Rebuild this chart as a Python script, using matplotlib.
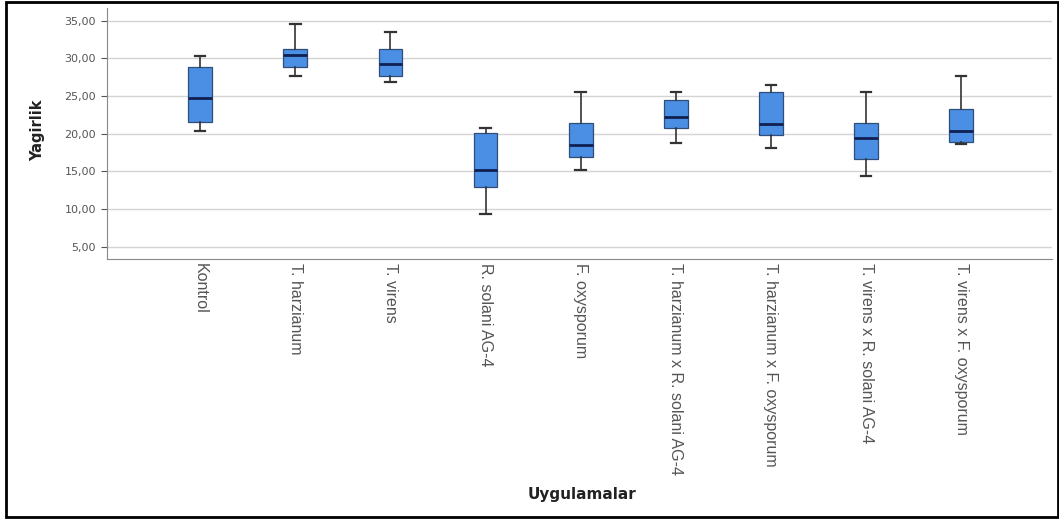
import matplotlib
matplotlib.use("Agg")
import matplotlib.pyplot as plt
from matplotlib.ticker import FuncFormatter

plt.rcParams["font.family"] = ["Liberation Sans", "DejaVu Sans"]

groups = ["Kontrol", "T. harzianum", "T. virens", "R. solani AG-4", "F. oxysporum",
          "T. harzianum x R. solani AG-4", "T. harzianum x F. oxysporum",
          "T. virens x R. solani AG-4", "T. virens x F. oxysporum"]
whisk_low = [20.4, 27.7, 26.9, 9.3, 15.2, 18.8, 18.1, 14.4, 18.7]
q1 = [21.5, 28.9, 27.7, 13.0, 16.9, 20.8, 19.8, 16.7, 18.9]
med = [24.8, 30.5, 29.2, 15.2, 18.5, 22.2, 21.3, 19.5, 20.3]
q3 = [28.8, 31.25, 31.2, 20.1, 21.45, 24.5, 25.6, 21.4, 23.3]
whisk_high = [30.3, 34.6, 33.5, 20.8, 25.55, 25.6, 26.4, 25.6, 27.7]
yticks = [5, 10, 15, 20, 25, 30, 35]

stats = []
for i, g in enumerate(groups):
    stats.append({"label": g, "whislo": whisk_low[i], "q1": q1[i], "med": med[i],
                  "q3": q3[i], "whishi": whisk_high[i], "fliers": []})

fig = plt.figure(figsize=(10.59, 5.21), dpi=100)
ax = fig.add_axes([0.101, 0.503, 0.892, 0.482])

ax.bxp(stats, positions=range(1, len(groups) + 1), widths=0.25, capwidths=0.11,
       patch_artist=True, showfliers=False,
       boxprops=dict(facecolor="#4a8fe3", edgecolor="#2f4f7a", linewidth=0.9),
       medianprops=dict(color="#102050", linewidth=2.0),
       whiskerprops=dict(color="#333333", linewidth=1.2),
       capprops=dict(color="#333333", linewidth=1.6))

ax.set_xlim(0.02, 9.95)
ax.set_ylim(3.4, 36.7)
ax.set_yticks(yticks)
ax.yaxis.set_major_formatter(FuncFormatter(lambda v, p: f"{v:.2f}".replace(".", ",")))
ax.grid(axis="y", color="#d4d4d4", linewidth=1.0)
ax.set_axisbelow(True)
for s in ["top", "right"]:
    ax.spines[s].set_visible(False)
for s in ["left", "bottom"]:
    ax.spines[s].set_color("#888888")
ax.tick_params(axis="y", labelsize=8, colors="#555555", length=4, pad=4)
ax.tick_params(axis="x", length=0, pad=3)
for t in ax.get_yticklabels():
    t.set_family("DejaVu Sans")
ax.set_xticks(range(1, len(groups) + 1))
ax.set_xticklabels(groups, rotation=-90, fontsize=11.5, color="#555555", va="top", ha="center")

fig.text(0.036, 0.75, "Yagirlik", fontsize=10.5, fontweight="bold", family="DejaVu Sans",
         rotation=90, ha="center", va="center", color="#222222")
fig.text(0.55, 0.05, "Uygulamalar", fontsize=11, fontweight="bold", family="DejaVu Sans",
         ha="center", va="center", color="#222222")

# outer frame
fig.add_artist(plt.Rectangle((0.006, 0.007), 0.993, 0.99, transform=fig.transFigure,
                             fill=False, edgecolor="black", linewidth=2))

plt.savefig("out.png", dpi=100)
